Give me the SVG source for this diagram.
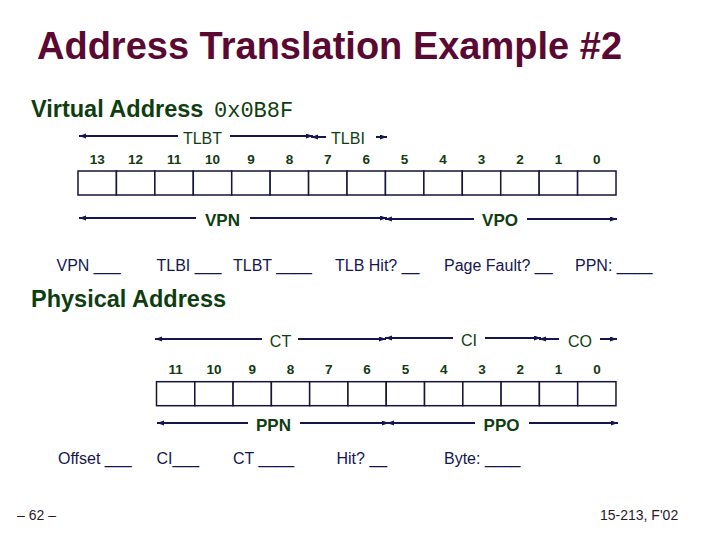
<svg xmlns="http://www.w3.org/2000/svg" width="720" height="540" viewBox="0 0 720 540">
<style>
.title{font-family:"Liberation Sans",Arial,sans-serif;font-weight:bold;font-size:38px;fill:#5a0a32}
.head{font-family:"Liberation Sans",Arial,sans-serif;font-weight:bold;font-size:23.5px;fill:#0e3e10}
.mono{font-family:"Liberation Mono","Courier New",monospace;font-weight:normal;font-size:22px;fill:#0e3e10}
.bit{font-family:"Liberation Sans",Arial,sans-serif;font-weight:bold;font-size:13.5px;fill:#123a12;text-anchor:middle}
.fld{font-family:"Liberation Sans",Arial,sans-serif;font-size:16px;fill:#0e3e10;text-anchor:middle}
.fldb{font-family:"Liberation Sans",Arial,sans-serif;font-weight:bold;font-size:17px;fill:#0e3e10;text-anchor:middle}
.q{font-family:"Liberation Sans",Arial,sans-serif;font-size:16px;fill:#15154f}
.foot{font-family:"Liberation Sans",Arial,sans-serif;font-size:14px;fill:#2a1a2a}
.cell{fill:#ffffff;stroke:#15153a;stroke-width:1.5}
.ar{stroke:#15154f;stroke-width:2;fill:none}
.s{marker-start:url(#ah)}
.e{marker-end:url(#ah)}
</style>
<defs>
<marker id="ah" markerUnits="userSpaceOnUse" markerWidth="8" markerHeight="6" refX="7" refY="2.5" orient="auto-start-reverse">
<path d="M0,0 L7,2.5 L0,5 z" fill="#15154f"/>
</marker>
</defs>
<rect width="720" height="540" fill="#ffffff"/>

<g id="title">
<text class="title" x="37" y="59">Address Translation Example #2</text>
</g>

<g id="virtual-header">
<text class="head" x="31" y="117">Virtual Address</text>
<text class="mono" x="214" y="117">0x0B8F</text>
</g>

<g id="virtual-bits">
<text class="bit" x="97.2" y="164">13</text>
<text class="bit" x="135.6" y="164">12</text>
<text class="bit" x="174.1" y="164">11</text>
<text class="bit" x="212.5" y="164">10</text>
<text class="bit" x="250.9" y="164">9</text>
<text class="bit" x="289.4" y="164">8</text>
<text class="bit" x="327.8" y="164">7</text>
<text class="bit" x="366.2" y="164">6</text>
<text class="bit" x="404.6" y="164">5</text>
<text class="bit" x="443.1" y="164">4</text>
<text class="bit" x="481.5" y="164">3</text>
<text class="bit" x="519.9" y="164">2</text>
<text class="bit" x="558.4" y="164">1</text>
<text class="bit" x="596.8" y="164">0</text>
</g>

<g id="virtual-cells">
<rect class="cell" x="78" y="171" width="38.43" height="24"/>
<rect class="cell" x="116.43" y="171" width="38.43" height="24"/>
<rect class="cell" x="154.86" y="171" width="38.43" height="24"/>
<rect class="cell" x="193.29" y="171" width="38.43" height="24"/>
<rect class="cell" x="231.72" y="171" width="38.43" height="24"/>
<rect class="cell" x="270.15" y="171" width="38.43" height="24"/>
<rect class="cell" x="308.58" y="171" width="38.43" height="24"/>
<rect class="cell" x="347.01" y="171" width="38.43" height="24"/>
<rect class="cell" x="385.44" y="171" width="38.43" height="24"/>
<rect class="cell" x="423.87" y="171" width="38.43" height="24"/>
<rect class="cell" x="462.3" y="171" width="38.43" height="24"/>
<rect class="cell" x="500.73" y="171" width="38.43" height="24"/>
<rect class="cell" x="539.16" y="171" width="38.43" height="24"/>
<rect class="cell" x="577.59" y="171" width="38.43" height="24"/>
</g>

<g id="virtual-fields">
<text class="fld" x="202.5" y="144">TLBT</text>
<text class="fld" x="348" y="143.5">TLBI</text>
<text class="fldb" x="222.5" y="226">VPN</text>
<text class="fldb" x="500" y="226">VPO</text>
</g>

<g id="virtual-questions">
<text class="q" x="56.5" y="271">VPN ___</text>
<text class="q" x="156.5" y="271">TLBI ___</text>
<text class="q" x="233" y="271">TLBT ____</text>
<text class="q" x="335" y="271">TLB Hit? __</text>
<text class="q" x="444" y="271">Page Fault? __</text>
<text class="q" x="575" y="271">PPN: ____</text>
</g>

<g id="physical-header">
<text class="head" x="31" y="307">Physical Address</text>
</g>

<g id="physical-bits">
<text class="bit" x="175.6" y="374">11</text>
<text class="bit" x="213.9" y="374">10</text>
<text class="bit" x="252.2" y="374">9</text>
<text class="bit" x="290.5" y="374">8</text>
<text class="bit" x="328.8" y="374">7</text>
<text class="bit" x="367.1" y="374">6</text>
<text class="bit" x="405.4" y="374">5</text>
<text class="bit" x="443.7" y="374">4</text>
<text class="bit" x="482" y="374">3</text>
<text class="bit" x="520.3" y="374">2</text>
<text class="bit" x="558.6" y="374">1</text>
<text class="bit" x="596.9" y="374">0</text>
</g>

<g id="physical-cells">
<rect class="cell" x="156.5" y="381.7" width="38.29" height="24"/>
<rect class="cell" x="194.79" y="381.7" width="38.29" height="24"/>
<rect class="cell" x="233.08" y="381.7" width="38.29" height="24"/>
<rect class="cell" x="271.37" y="381.7" width="38.29" height="24"/>
<rect class="cell" x="309.66" y="381.7" width="38.29" height="24"/>
<rect class="cell" x="347.95" y="381.7" width="38.29" height="24"/>
<rect class="cell" x="386.24" y="381.7" width="38.29" height="24"/>
<rect class="cell" x="424.53" y="381.7" width="38.29" height="24"/>
<rect class="cell" x="462.82" y="381.7" width="38.29" height="24"/>
<rect class="cell" x="501.11" y="381.7" width="38.29" height="24"/>
<rect class="cell" x="539.4" y="381.7" width="38.29" height="24"/>
<rect class="cell" x="577.69" y="381.7" width="38.29" height="24"/>
</g>

<g id="physical-fields">
<text class="fld" x="280.5" y="346.5">CT</text>
<text class="fld" x="469" y="345.5">CI</text>
<text class="fld" x="580" y="346.5">CO</text>
<text class="fldb" x="273.5" y="430.5">PPN</text>
<text class="fldb" x="501.5" y="430.5">PPO</text>
</g>

<g id="physical-questions">
<text class="q" x="58" y="464">Offset ___</text>
<text class="q" x="156.5" y="464">CI___</text>
<text class="q" x="233" y="464">CT ____</text>
<text class="q" x="336.5" y="464">Hit? __</text>
<text class="q" x="444" y="464">Byte: ____</text>
</g>

<g id="connectors">
<line class="ar s" x1="79" y1="136" x2="178" y2="136"/>
<line class="ar e" x1="230" y1="136" x2="313" y2="136"/>
<line class="ar s" x1="311" y1="137" x2="326" y2="137"/>
<line class="ar e" x1="376" y1="137" x2="387" y2="137"/>
<line class="ar s" x1="79" y1="218" x2="196" y2="218"/>
<line class="ar e" x1="250" y1="218" x2="387" y2="218"/>
<line class="ar s" x1="385" y1="219" x2="474" y2="219"/>
<line class="ar e" x1="527" y1="219" x2="617" y2="219"/>
<line class="ar s" x1="155" y1="339" x2="262" y2="339"/>
<line class="ar e" x1="298" y1="339" x2="386" y2="339"/>
<line class="ar s" x1="385" y1="338" x2="453" y2="338"/>
<line class="ar e" x1="485" y1="338" x2="541" y2="338"/>
<line class="ar s" x1="539" y1="339" x2="559" y2="339"/>
<line class="ar e" x1="600" y1="339" x2="617" y2="339"/>
<line class="ar s" x1="157" y1="423" x2="248" y2="423"/>
<line class="ar e" x1="300" y1="423" x2="389" y2="423"/>
<line class="ar s" x1="387" y1="423" x2="475" y2="423"/>
<line class="ar e" x1="529" y1="423" x2="618" y2="423"/>
</g>

<g id="footer">
<text class="foot" x="17" y="520">– 62 –</text>
<text class="foot" x="600" y="520">15-213, F'02</text>
</g>
</svg>
